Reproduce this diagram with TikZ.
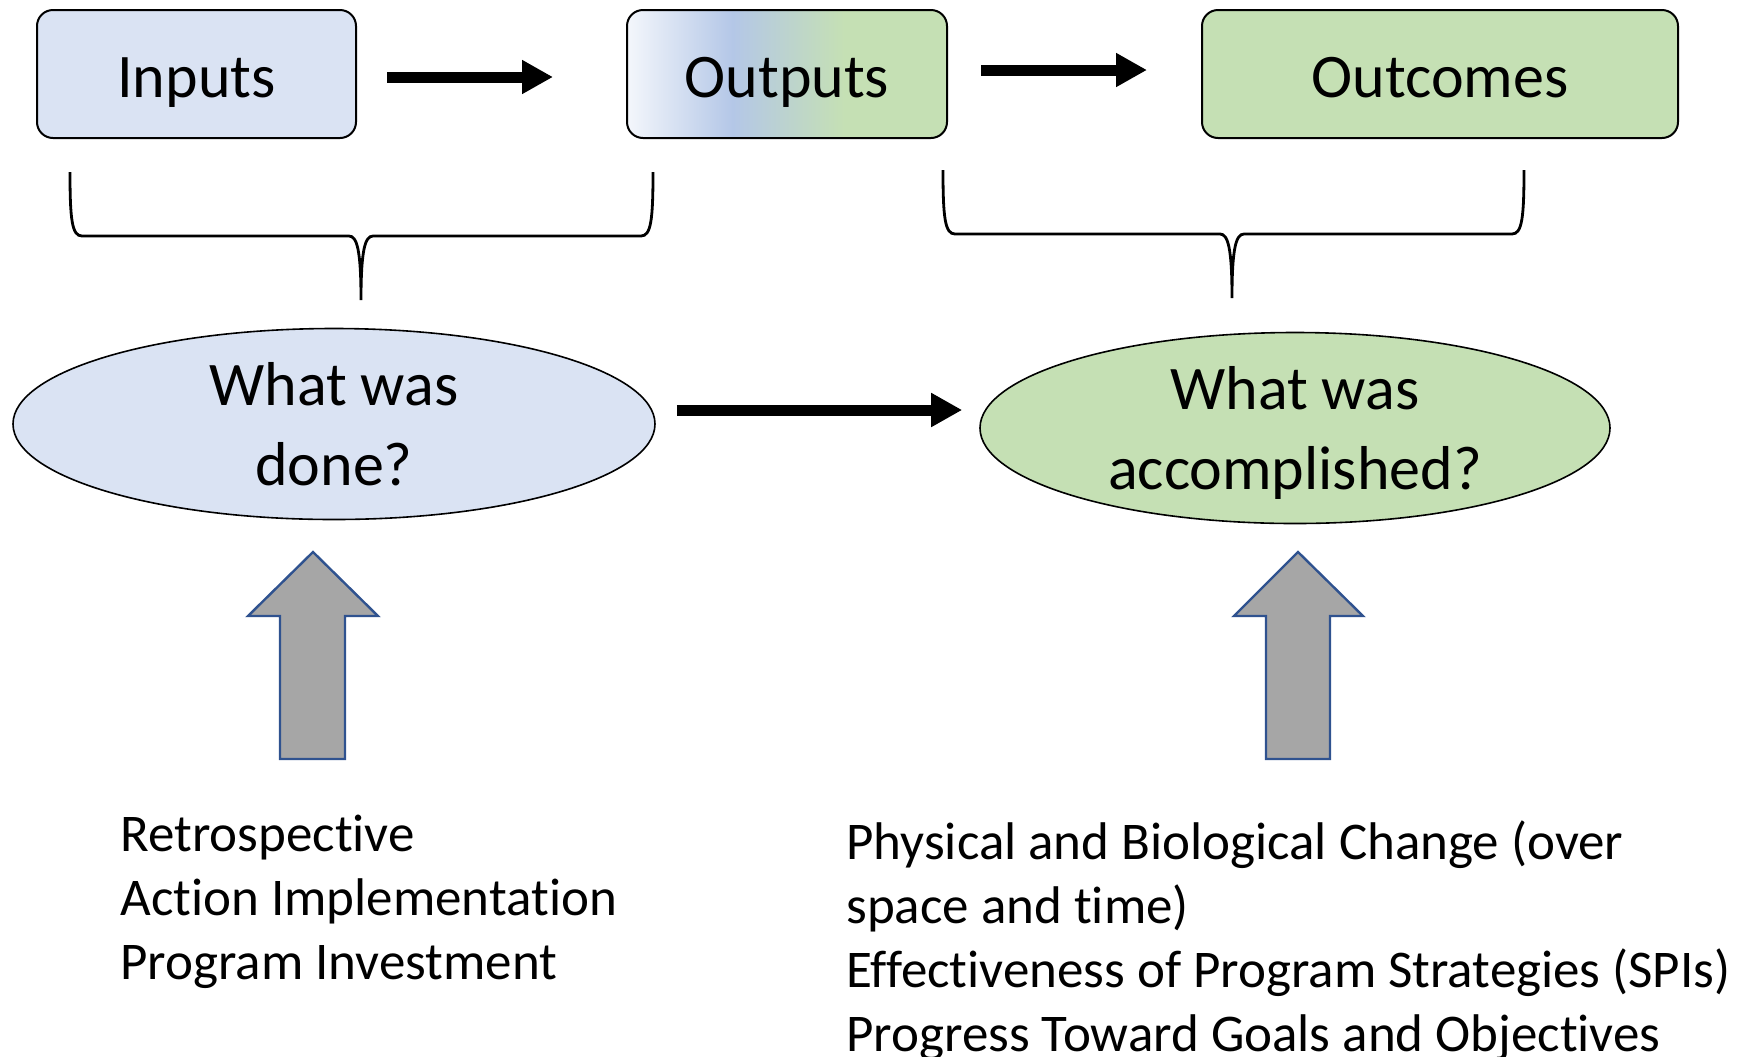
\documentclass[tikz,border=0pt]{standalone}
\usepackage{fontspec}
\setmainfont{Carlito}[Ligatures=NoCommon]
\usetikzlibrary{arrows.meta}
\usetikzlibrary{shapes.geometric}
\usetikzlibrary{positioning}

\definecolor{inblue}{HTML}{DAE3F3}
\definecolor{midblue}{HTML}{B4C7E7}
\definecolor{outgreen}{HTML}{C5E0B4}
\definecolor{arrowgray}{HTML}{A6A6A6}
\definecolor{edgeblue}{HTML}{2F528F}

\pgfdeclarehorizontalshading{outshade}{100bp}{color(0bp)=(white); color(25bp)=(white!85!midblue); color(41.5bp)=(midblue); color(59bp)=(outgreen); color(100bp)=(outgreen)}

\tikzset{
  stagebox/.style={rectangle, rounded corners=8pt, draw=black, line width=1pt, minimum height=64pt, inner sep=0pt, text height=23.6pt, text depth=0pt, font=\fontsize{31}{37.5}\selectfont},
  question/.style={ellipse, draw=black, line width=0.8pt, minimum height=95.5pt, inner sep=0pt, align=center, font=\fontsize{31}{40}\selectfont},
  flowarrow/.style={line width=5.5pt, -{Triangle[length=15.5pt,width=16pt]}},
  bracket/.style={line width=1.4pt},
  blockarrow/.style={fill=arrowgray, draw=edgeblue, line width=1.2pt},
  notes/.style={align=left, anchor=north west, inner sep=0pt, font=\fontsize{26.5}{32}\selectfont}
}

\begin{document}
\begin{tikzpicture}[x=0.5pt, y=-0.5pt]
\useasboundingbox (0,0) rectangle (1741,1056);
% top row
\node [stagebox, fill=inblue, minimum width=159.5pt] (inputs) at (196.5, 74) {Inputs};
\node [stagebox, shading=outshade, minimum width=160pt] (outputs) at (787, 74) {Outputs};
\node [stagebox, fill=outgreen, minimum width=238pt] (outcomes) at (1440, 74) {Outcomes};
\draw [flowarrow] ([xshift=15pt, yshift=-1.5pt]inputs.east) -- ([xshift=-36.5pt, yshift=-1.5pt]outputs.west);
\draw [flowarrow] ([xshift=16.5pt, yshift=2pt]outputs.east) -- ([xshift=-27pt, yshift=2pt]outcomes.west);
% braces
\draw [bracket] (70,172) .. controls (70,220) and (72,236) .. (82,236) -- (349,236)
  .. controls (357,236) and (361,250) .. (361,300)
  .. controls (361,250) and (365,236) .. (373,236) -- (641,236)
  .. controls (651,236) and (653,220) .. (653,172);
\draw [bracket] (943,170) .. controls (943,218) and (945,234) .. (955,234) -- (1220,234)
  .. controls (1228,234) and (1232,248) .. (1232,298)
  .. controls (1232,248) and (1236,234) .. (1244,234) -- (1512,234)
  .. controls (1522,234) and (1524,218) .. (1524,170);
% questions
\node [question, fill=inblue, minimum width=321pt] (done) at (334, 424) {What was\\done?};
\node [question, fill=outgreen, minimum width=315pt, text depth=0pt] (accomplished) at (1295, 428) {What was\\accomplished?};
\draw [flowarrow] ([xshift=10.5pt, yshift=7pt]done.east) -- ([xshift=-8.5pt, yshift=9pt]accomplished.west);
% block arrows
\draw [blockarrow] (313,552) -- (378,616) -- (345,616) -- (345,759) -- (280,759) -- (280,616) -- (248,616) -- cycle;
\draw [blockarrow] (1298,552) -- (1363,616) -- (1330,616) -- (1330,759) -- (1266,759) -- (1266,616) -- (1234,616) -- cycle;
% notes
\node [notes] (donenotes) at (120, 815) {Retrospective\\Action Implementation\\Program Investment};
\node [notes] (accnotes) at (846, 820) {Physical and Biological Change (over\\space and time)\\Effectiveness of Program Strategies (SPIs)\\Progress Toward Goals and Objectives};
\end{tikzpicture}
\end{document}
